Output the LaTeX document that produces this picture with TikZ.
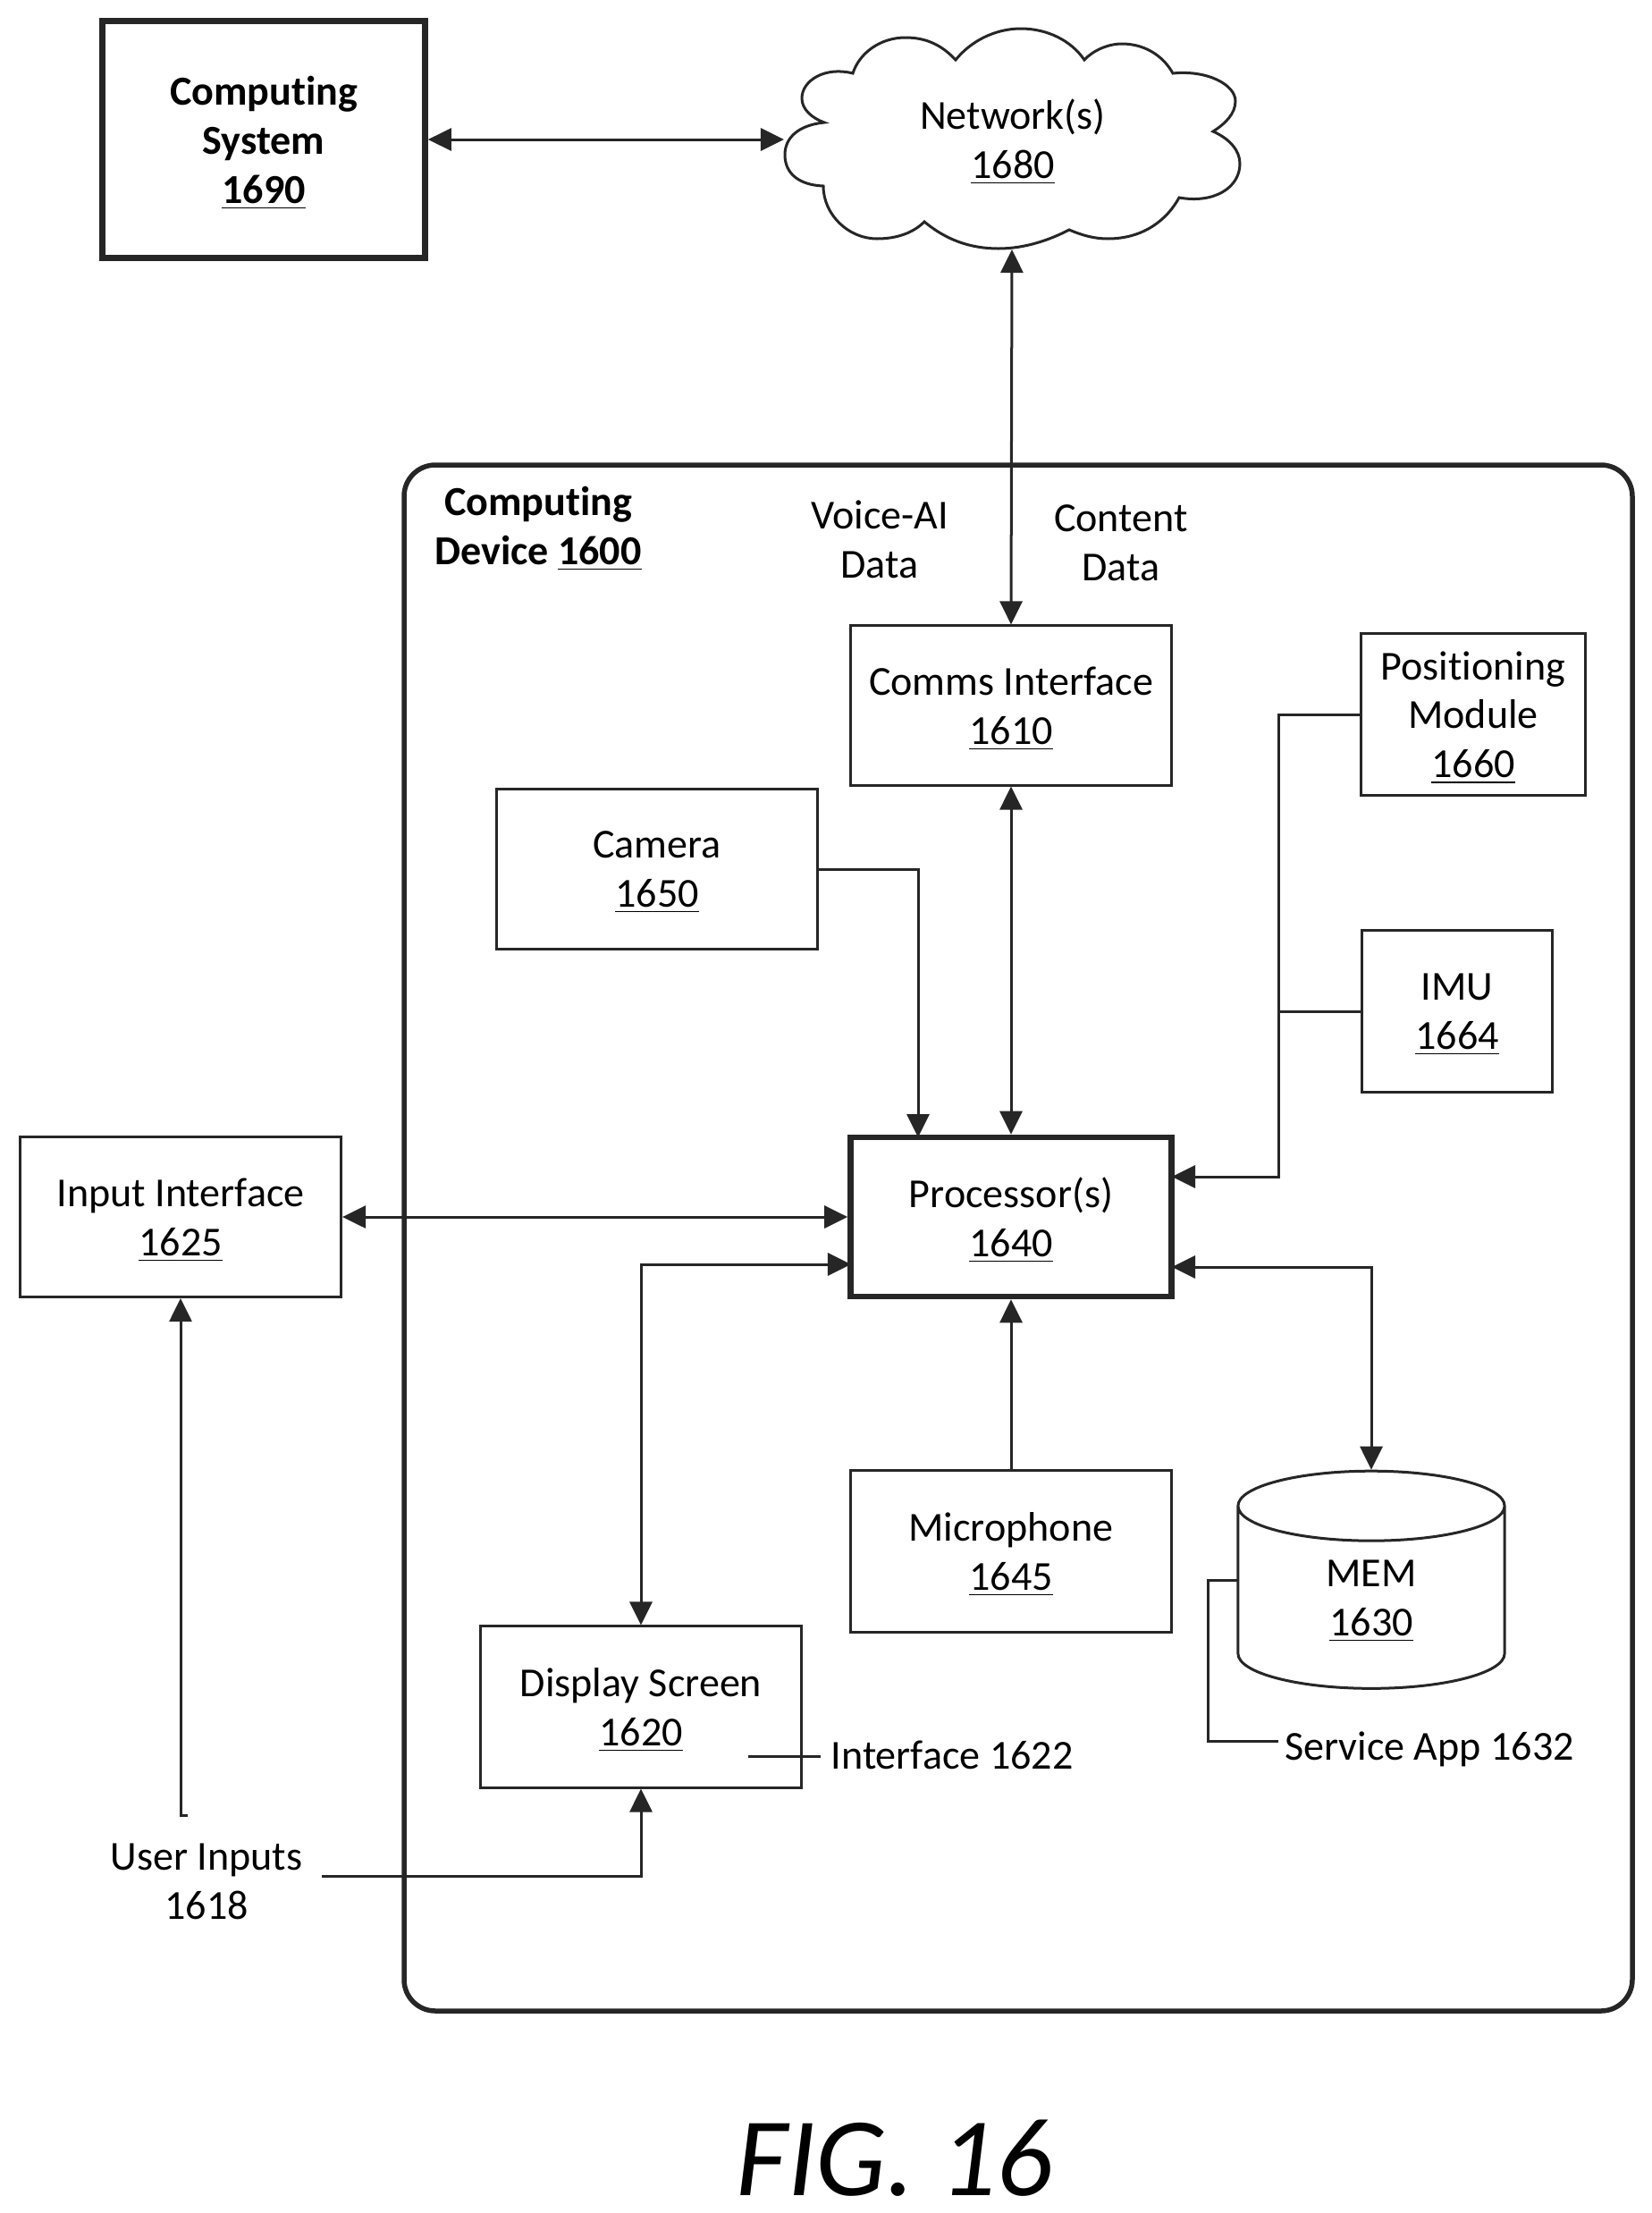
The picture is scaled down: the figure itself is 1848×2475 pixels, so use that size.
\documentclass[tikz,border=0pt]{standalone}
\usepackage{fontspec}
\setmainfont{Carlito}[Ligatures=NoCommon]
\usetikzlibrary{arrows.meta,shapes.geometric}
\newcommand{\refnum}[1]{\smash{\underline{#1}}}
\tikzset{
  >={Triangle[length=0.26cm,width=0.25cm]},
  line/.style={line width=0.03cm,color=black!85},
  box/.style={draw=black!85,line width=0.03cm,inner sep=0pt,align=center,minimum width=#1},
  box/.default=3.59cm,
  heavy/.style={line width=0.065cm},
  lbl/.style={inner sep=0pt,align=center},
  every node/.append style={font=\fontsize{13.1}{15.6}\selectfont}
}
\begin{document}
\begin{tikzpicture}[x=0.01cm,y=-0.01cm]
\useasboundingbox (0,0) rectangle (1848,2475);
%%%%% Outer device %%%%%
\draw[line width=0.055cm,color=black!85,rounded corners=0.35cm] (452,520) rectangle (1826,2249);
\node[lbl,font=\fontsize{13.1}{15.6}\selectfont\bfseries] (devlbl) at (602,588) {Computing\\Device \refnum{1600}};
\node[lbl] (voice) at (984,603) {Voice-AI\\Data};
\node[lbl] (content) at (1254,607) {Content\\Data};
%%%%% Boxes %%%%%
\node[box=3.61cm,heavy,minimum height=2.65cm,font=\fontsize{13.1}{15.6}\selectfont\bfseries] (compsys) at (295,156) {Computing\\System\\\refnum{1690}};
\node[box,minimum height=1.78cm] (comms) at (1131,789) {Comms Interface\\\refnum{1610}};
\node[box,minimum height=1.78cm] (camera) at (735,972) {Camera\\\refnum{1650}};
\node[box=2.5cm,minimum height=1.8cm] (posmod) at (1648,799) {Positioning\\Module\\\refnum{1660}};
\node[box=2.12cm,minimum height=1.8cm] (imu) at (1630,1131) {IMU\\\refnum{1664}};
\node[box,heavy,minimum height=1.78cm] (proc) at (1131,1361) {Processor(s)\\\refnum{1640}};
\node[box,minimum height=1.79cm] (input) at (202,1361) {Input Interface\\\refnum{1625}};
\node[box,minimum height=1.8cm] (mic) at (1131,1735) {Microphone\\\refnum{1645}};
\node[box,minimum height=1.8cm] (display) at (717,1909) {Display Screen\\\refnum{1620}};
\node[draw=black!85,line width=0.03cm,cylinder,shape border rotate=90,aspect=0.77,minimum width=2.98cm,minimum height=2.43cm,inner sep=0pt,align=center] (mem) at (1534,1787) {MEM\\\refnum{1630}};
%%%%% Cloud %%%%%
\draw[line] (922,137) .. controls (892,140) and (878,155) .. (878,173)
  .. controls (878,195) and (895,207) .. (921,208)
  .. controls (921,240) and (949,267) .. (981,267)
  .. controls (1004,267) and (1022,260) .. (1034,248)
  .. controls (1058,268) and (1085,278) .. (1117,278)
  .. controls (1147,278) and (1175,268) .. (1196,257)
  .. controls (1210,263) and (1224,267) .. (1239,267)
  .. controls (1280,267) and (1306,245) .. (1319,221)
  .. controls (1358,228) and (1387,210) .. (1387,183)
  .. controls (1387,168) and (1375,155) .. (1357,147)
  .. controls (1371,138) and (1382,127) .. (1382,113)
  .. controls (1382,95) and (1351,78) .. (1312,82)
  .. controls (1301,62) and (1280,49) .. (1255,49)
  .. controls (1239,49) and (1222,57) .. (1213,67)
  .. controls (1198,45) and (1171,32) .. (1142,32)
  .. controls (1112,32) and (1085,47) .. (1069,67)
  .. controls (1055,52) and (1038,42) .. (1013,42)
  .. controls (984,42) and (961,60) .. (954,82)
  .. controls (923,74) and (897,90) .. (897,110)
  .. controls (897,122) and (908,132) .. (922,137) -- cycle;
\node[lbl] (net) at (1133,155) {Network(s)\\\refnum{1680}};
\coordinate (netw) at (877,156);
\coordinate (nets) at (1132,279);
%%%%% Free labels %%%%%
\node[lbl] (userin) at (231,2104) {User Inputs\\1618};
\node[lbl] (ifacelbl) at (1065,1963) {Interface 1622};
\node[lbl] (svclbl) at (1599,1956) {Service App 1632};
\node[lbl,font=\fontsize{35.6}{43}\selectfont\itshape] (figlbl) at (1001,2414) {FIG. 16};
%%%%% Helper points %%%%%
\coordinate (campin) at (1027,1272);
\coordinate (posin) at (1311,1316);
\coordinate (dispout) at (952,1414);
\coordinate (memout) at (1311,1417);
\coordinate (junc) at (1430,1131);
\coordinate (userjog) at (210,2030);
\coordinate (userup) at (202,2030);
\coordinate (userlow) at (360,2098);
\coordinate (ifacea) at (837,1964);
\coordinate (ifaceb) at (918,1964);
\coordinate (svca) at (1385,1767);
\coordinate (svcb) at (1351,1947);
\coordinate (svcc) at (1430,1947);
%%%%% Connectors %%%%%
\draw[line,<->] (compsys.east) -- (netw);
\draw[line,<->] (nets) -- (comms.north);
\draw[line,<->] (comms.south) -- (proc.north);
\draw[line,->] (camera.east) -| (campin);
\draw[line,->] (posmod.west) -| (junc) |- (posin);
\draw[line] (imu.west) -- (junc);
\draw[line,<->] (input.east) -- (proc.west);
\draw[line,<->] (dispout) -| (display.north);
\draw[line,<->] (memout) -| (mem.top);
\draw[line,->] (mic.north) -- (proc.south);
\draw[line,->] (userjog) -- (userup) -- (input.south);
\draw[line,->] (userlow) -| (display.south);
\draw[line] (ifacea) -- (ifaceb);
\draw[line] (svca) -| (svcb) -- (svcc);
\end{tikzpicture}
\end{document}
